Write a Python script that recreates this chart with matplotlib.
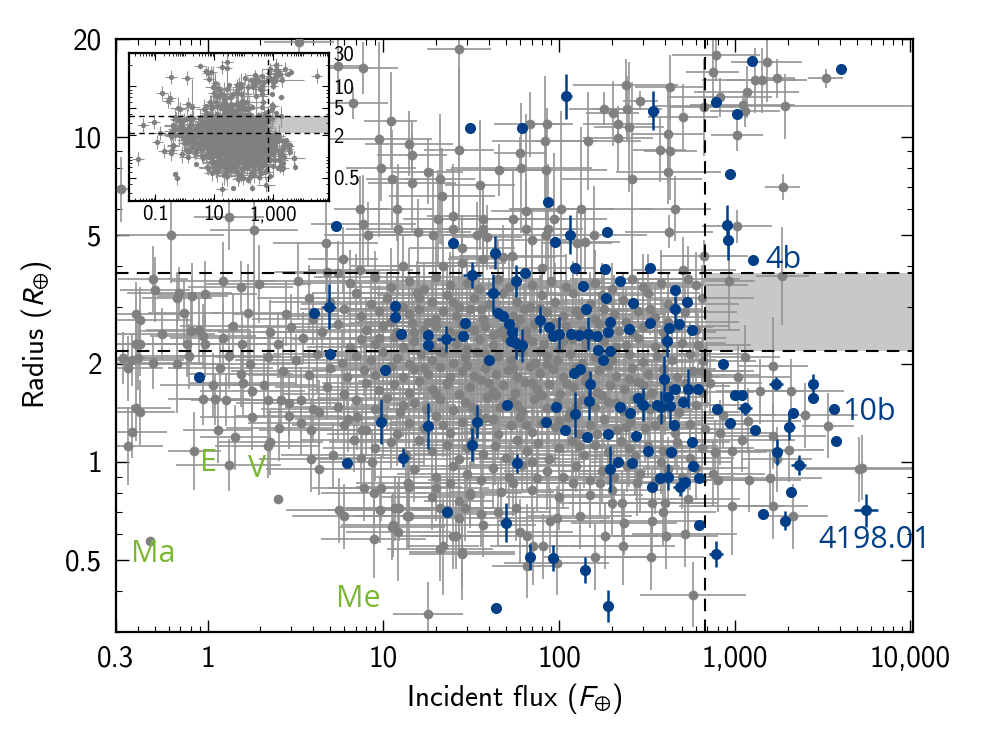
import matplotlib.pyplot as plt
import numpy as np
from matplotlib.ticker import FixedLocator, FixedFormatter, LogLocator, NullFormatter

plt.rcParams['font.family'] = ['cmss10', 'DejaVu Sans']
plt.rcParams['mathtext.fontset'] = 'stixsans'
plt.rcParams['axes.unicode_minus'] = False

# flux (F_earth), radius (R_earth), flux error (dex), radius error (dex)
gray_top = [
    (3.3, 19.5, .2, .04), (27, 18.6, .18, .3), (5.5, 16.5, .15, .08), (7.7, 16.2, .2, .08),
    (6.7, 12.7, .2, .05), (11, 11.2, .15, .15), (9.5, 9.8, .3, .3), (9.7, 8.0, .2, .1),
    (11.2, 7.4, .15, .15), (14, 9.5, .25, .1), (14.6, 8.8, .2, .1), (14.6, 7.2, .25, .15),
    (17.9, 7.8, .2, .1), (21, 7.4, .2, .2), (21.6, 6.55, .3, .15), (27, 9.1, .2, .25),
    (35.5, 7.1, .2, .2), (45.5, 7.9, .3, .08), (60, 8.9, .15, .05), (61, 8.0, .4, .2),
    (68, 10.9, .2, .1), (85, 10.9, .15, .05), (83, 9.7, .3, .2), (84, 7.9, .35, .15),
    (65, 5.9, .2, .3), (103, 6.0, .3, .3), (133, 6.0, .4, .25), (146, 9.7, .3, .15),
    (180, 12.2, .2, .05), (202, 11.8, .15, .1), (217, 10.9, .2, .05), (217, 9.9, .2, .1),
    (250, 10.7, .2, .2), (244, 12.2, .2, .1), (240, 14.4, .3, .08), (290, 12.9, .1, .03),
    (260, 7.4, .4, .3), (375, 9.1, .15, .1), (430, 14.2, .2, .1), (415, 10.2, .2, .15),
    (430, 9.0, .15, .15), (420, 7.8, .3, .1), (510, 11.5, .2, .1), (460, 6.0, .2, .1),
    (425, 5.1, .25, .05), (665, 12.3, .2, .15), (670, 4.3, .25, .05), (780, 17.8, .25, .08),
    (750, 15.8, .15, .1), (1520, 16.9, .2, .12), (1750, 15.1, .1, .06), (3300, 15.1, .1, .03),
    (1300, 14.9, .3, .1), (1430, 14.9, .2, .1), (1170, 13.7, .3, .08), (820, 13.2, .3, .06),
    (1110, 12.5, .3, .03), (1150, 12.0, .2, .05), (1940, 12.4, .75, .1), (1030, 10.1, .15, .05),
    (1880, 7.0, .1, .04), (1030, 5.3, .2, .05), (930, 3.6, .15, .15), (1870, 3.73, .15, .15),
]

gray_upper = [
    (7.4, 6.0, .15, .1), (7.7, 5.4, .3, .15), (8.2, 5.0, .25, .1), (12.2, 5.2, .3, .2),
    (12, 6.0, .2, .1), (4.7, 4.7, .3, .15), (5.9, 4.2, .2, .1), (20.5, 5.6, .2, .15),
    (25, 5.7, .15, .1), (25, 5.2, .2, .2), (15.8, 5.1, .3, .1), (19.2, 5.0, .3, .2),
    (28, 4.55, .3, .1), (37, 5.6, .3, .1), (37, 5.2, .2, .1), (39, 4.9, .2, .1),
    (34, 5.0, .2, .1), (55, 5.6, .3, .15), (65, 5.2, .3, .15), (70, 4.8, .2, .1),
    (87, 5.2, .2, .2), (94, 5.6, .3, .2), (84, 5.0, .2, .1), (126, 4.7, .2, .1),
    (140, 4.75, .2, .1), (158, 5.0, .3, .15), (54, 4.3, .3, .1), (37, 4.2, .2, .1),
    (28, 4.1, .25, .1), (22, 4.0, .3, .1), (48, 4.25, .3, .1), (80, 3.95, .3, .1),
    (13, 4.0, .3, .1), (7.4, 3.9, .3, .1), (5.5, 3.8, .3, .1), (510, 3.9, .3, .1),
    (540, 3.65, .3, .1), (1.32, 5.65, .2, .1), (1.83, 5.15, .25, .4), (0.62, 5.0, .3, .15),
    (0.32, 6.9, .2, .1), (4.8, 3.84, .3, .1),
]

gray_left = [
    (0.49, 3.65, .2, .1), (0.50, 3.38, .2, .1), (0.67, 3.2, .2, .08), (0.69, 3.3, .3, .08),
    (0.82, 3.24, .2, .1), (0.96, 3.29, .3, .1), (1.23, 3.6, .3, .12), (1.54, 3.45, .3, .08),
    (1.95, 3.53, .3, .12), (3.25, 3.6, .3, .12), (0.39, 2.84, .3, .1), (0.41, 2.74, .3, .1),
    (0.73, 2.86, .2, .1), (0.55, 2.48, .3, .08), (0.89, 2.55, .3, .1), (0.94, 2.43, .3, .1),
    (0.80, 2.52, .3, .1), (1.69, 2.87, .2, .15), (1.39, 2.62, .3, .1), (1.22, 2.41, .3, .1),
    (1.56, 2.31, .3, .1), (2.28, 2.5, .3, .1), (0.39, 2.31, .3, .1), (0.41, 2.31, .3, .1),
    (0.76, 2.30, .3, .1), (0.96, 2.30, .3, .1), (0.33, 2.09, .2, .08), (0.37, 2.06, .3, .08),
    (0.40, 2.09, .3, .1), (0.49, 2.02, .3, .08), (0.67, 2.0, .3, .15), (0.78, 2.11, .3, .1),
    (0.35, 1.94, .2, .1), (1.07, 1.72, .3, .1), (1.18, 1.94, .3, .1), (1.32, 2.11, .3, .1),
    (1.54, 1.86, .3, .1), (1.75, 2.0, .3, .1), (1.58, 1.75, .3, .1), (0.94, 1.56, .2, .08),
    (1.1, 1.56, .2, .08), (1.28, 1.55, .2, .08), (1.8, 1.65, .3, .1), (2.1, 1.72, .3, .1),
    (2.2, 1.55, .3, .1), (2.6, 1.55, .3, .1), (2.9, 1.52, .3, .1), (1.8, 1.37, .3, .1),
    (0.39, 1.46, .2, .1), (0.41, 1.42, .2, .1), (0.37, 1.24, .2, .08), (0.35, 1.12, .2, .12),
    (1.15, 1.25, .2, .1), (1.44, 1.19, .2, .1), (0.84, 1.08, .15, .12), (1.32, 0.98, .3, .08),
    (2.28, 1.15, .3, .1), (2.53, 0.77, 0, 0), (0.47, 0.57, 0, 0), (2.55, 1.27, .3, .1),
    (2.9, 1.38, .3, .1), (3.4, 1.32, .3, .1), (3.9, 1.25, .3, .1), (3.9, 1.02, .3, .1),
    (4.3, 0.95, .3, .08), (5.2, 1.05, .3, .1), (7.5, 1.03, .3, .1), (8.6, 1.0, .3, .1),
    (6.8, 1.17, .3, .1), (7.6, 1.25, .3, .1), (7.1, 1.37, .3, .1), (6.3, 1.35, .3, .1),
    (4.3, 1.42, .3, .1), (3.4, 1.55, .3, .1), (4.0, 1.45, .3, .1), (2.2, 1.12, .3, .1),
]

gray_low = [
    (5.6, 0.71, .3, .1), (6.0, 0.68, .3, .1), (7.8, 0.83, .3, .1), (8.8, 0.80, .3, .1),
    (9.7, 0.83, .3, .1), (9.6, 0.71, .3, .1), (8.8, 0.58, .3, .12), (11.4, 0.64, .3, .1),
    (12.3, 0.72, .3, .1), (14, 0.68, .3, .1), (14, 0.84, .3, .1), (12.2, 0.61, .3, .15),
    (18, 0.34, .2, .1), (20, 0.83, .3, .1), (23, 0.71, .2, .1), (26, 0.59, .2, .1),
    (22, 0.55, .2, .15), (28, 0.53, .3, .15), (36, 0.69, .2, .1), (29, 0.72, .2, .1),
    (27, 0.76, .2, .1), (31, 0.79, .2, .1), (580, 0.39, .3, .1), (335, 0.51, .3, .1),
    (230, 0.55, .3, .12), (160, 0.51, .3, .1), (184, 0.59, .3, .1), (405, 0.59, .3, .1),
    (520, 0.60, .3, .1), (81, 0.55, .3, .1), (71, 0.55, .2, .12), (66, 0.59, .2, .1),
    (60, 0.61, .3, .1), (66, 0.48, .2, .1), (97, 0.49, .3, .1), (28, 0.52, .3, .1),
    (21, 0.54, .3, .1), (25, 0.59, .3, .1), (37, 0.64, .3, .1), (45, 0.70, .3, .1),
    (57, 0.72, .3, .1), (89, 0.66, .3, .1), (98, 0.67, .3, .1), (131, 0.68, .3, .1),
    (200, 0.75, .3, .1), (228, 0.75, .3, .1), (235, 0.65, .3, .1), (340, 0.66, .3, .1),
    (390, 0.70, .3, .1), (400, 0.75, .3, .1), (540, 0.77, .3, .1), (27, 0.67, .3, .1),
    (21, 0.72, .3, .1), (13.6, 0.68, .3, .1), (11.2, 0.63, .3, .1), (11.6, 0.72, .3, .1),
    (13.9, 0.86, .3, .1), (19, 0.78, .3, .1), (24, 0.86, .3, .1), (31, 0.80, .3, .1),
    (47, 0.81, .3, .1), (55, 0.86, .3, .1), (70, 0.82, .3, .1), (100, 0.78, .3, .1),
    (120, 0.86, .3, .1), (150, 0.79, .3, .1), (172, 0.86, .3, .1), (200, 0.82, .3, .1),
    (277, 0.86, .3, .1), (340, 0.75, .3, .1),
]

gray_right = [
    (1150, 2.1, .2, .1), (1650, 1.97, .2, .15), (1040, 1.82, .3, .1), (1390, 1.65, .25, .1),
    (2100, 1.65, .3, .1), (2520, 1.39, .3, .1), (3400, 1.29, .15, .1), (1650, 1.2, .3, .1),
    (1190, 1.34, .3, .1), (860, 1.39, .3, .1), (1100, 1.17, .3, .1), (970, 1.08, .3, .1),
    (1750, 1.02, .2, .1), (2040, 1.09, .2, .1), (1580, 0.89, .3, .08), (1200, 0.88, .3, .1),
    (960, 0.73, .3, .15), (1660, 0.73, .2, .1), (2150, 0.68, .2, .1), (5330, 0.96, .35, .1),
    (5100, 0.95, .3, .1), (770, 1.07, .3, .1), (750, 0.92, .3, .1), (800, 0.88, .3, .1),
    (820, 1.23, .3, .1), (650, 1.9, .3, .1), (720, 1.75, .3, .1),
]

gray_core = [
    (6.5, 3.55, .3, .1), (9, 3.7, .35, .08), (11, 3.45, .25, .12), (14, 3.6, .4, .1),
    (17, 3.4, .3, .08), (20, 3.7, .2, .12), (24, 3.5, .35, .1), (30, 3.55, .3, .08),
    (35, 3.4, .4, .1), (45, 3.65, .25, .12), (52, 3.45, .3, .1), (70, 3.5, .35, .08),
    (90, 3.6, .3, .12), (110, 3.45, .25, .1), (160, 3.55, .4, .1), (200, 3.4, .3, .08),
    (260, 3.65, .35, .12), (300, 3.45, .3, .1), (380, 3.55, .25, .1), (600, 3.5, .3, .1),
    (3.8, 3.2, .3, .1), (5, 3.1, .35, .08), (7, 3.3, .25, .12), (8.5, 3.05, .4, .1),
    (10.5, 3.2, .3, .08), (13, 3.0, .2, .12), (15.5, 3.3, .35, .1), (19, 3.1, .3, .08),
    (23, 3.25, .4, .1), (27, 3.0, .25, .12), (33, 3.2, .3, .1), (40, 3.05, .35, .08),
    (48, 3.3, .3, .12), (58, 3.1, .25, .1), (68, 3.0, .4, .1), (80, 3.25, .3, .08),
    (95, 3.1, .35, .12), (120, 3.3, .3, .1), (150, 3.05, .25, .1), (175, 3.25, .3, .1),
    (230, 3.15, .35, .08), (320, 3.3, .3, .12), (420, 3.05, .4, .1), (650, 3.2, .3, .1),
    (2.8, 2.85, .3, .1), (4, 2.75, .35, .08), (6, 2.95, .25, .12), (7.5, 2.8, .4, .1),
    (9.5, 2.9, .3, .08), (11, 2.7, .2, .12), (14, 2.85, .35, .1), (16, 2.95, .3, .08),
    (20, 2.75, .4, .1), (22, 2.9, .25, .12), (26, 2.8, .3, .1), (31, 2.95, .35, .08),
    (37, 2.75, .3, .12), (44, 2.9, .25, .1), (55, 2.8, .4, .1), (63, 2.95, .3, .08),
    (75, 2.72, .35, .12), (85, 2.88, .3, .1), (105, 2.8, .25, .1), (125, 2.92, .3, .1),
    (160, 2.75, .35, .08), (205, 2.85, .3, .12), (280, 2.9, .4, .1), (350, 2.78, .3, .1),
    (520, 2.88, .3, .1),
    (3, 2.6, .3, .1), (4.5, 2.5, .35, .08), (5.5, 2.65, .25, .12), (8, 2.55, .4, .1),
    (10, 2.62, .3, .08), (12, 2.5, .2, .12), (14.5, 2.68, .35, .1), (17, 2.55, .3, .08),
    (20, 2.62, .4, .1), (24, 2.5, .25, .12), (28, 2.66, .3, .1), (33, 2.55, .35, .08),
    (38, 2.62, .3, .12), (46, 2.5, .25, .1), (56, 2.6, .4, .1), (65, 2.52, .3, .08),
    (72, 2.65, .35, .12), (90, 2.55, .3, .1), (110, 2.62, .25, .1), (135, 2.55, .3, .1),
    (170, 2.65, .35, .08), (220, 2.52, .3, .12), (300, 2.6, .4, .1), (390, 2.5, .3, .1),
    (470, 2.62, .3, .1), (600, 2.55, .25, .1),
    (2.5, 2.3, .3, .1), (3.5, 2.4, .35, .08), (6.5, 2.25, .25, .12), (7.5, 2.38, .4, .1),
    (9, 2.3, .3, .08), (11.5, 2.42, .2, .12), (13, 2.25, .35, .1), (15, 2.35, .3, .08),
    (19, 2.28, .4, .1), (23, 2.42, .25, .12), (26, 2.3, .3, .1), (30, 2.22, .35, .08),
    (35, 2.38, .3, .12), (42, 2.28, .25, .1), (50, 2.4, .4, .1), (60, 2.25, .3, .08),
    (70, 2.35, .35, .12), (82, 2.3, .3, .1), (100, 2.22, .25, .1), (118, 2.38, .3, .1),
    (140, 2.3, .35, .08), (180, 2.35, .3, .12), (240, 2.28, .4, .1), (280, 2.4, .3, .1),
    (350, 2.25, .3, .1), (500, 2.32, .25, .1), (620, 2.28, .3, .1),
    (2.2, 2.1, .3, .1), (3.2, 2.05, .35, .08), (4.2, 2.15, .25, .12), (5.8, 2.02, .4, .1),
    (7, 2.12, .3, .08), (8.5, 2.05, .2, .12), (10, 2.18, .35, .1), (12, 2.08, .3, .08),
    (14, 2.0, .4, .1), (16.5, 2.14, .25, .12), (19, 2.05, .3, .1), (22, 2.17, .35, .08),
    (25, 2.02, .3, .12), (29, 2.1, .25, .1), (34, 2.18, .4, .1), (39, 2.04, .3, .08),
    (45, 2.12, .35, .12), (53, 2.06, .3, .1), (62, 2.17, .25, .1), (73, 2.02, .3, .1),
    (86, 2.12, .35, .08), (98, 2.05, .3, .12), (115, 2.15, .4, .1), (135, 2.02, .3, .1),
    (160, 2.1, .3, .1), (200, 2.06, .25, .1), (250, 2.15, .35, .1), (300, 2.03, .3, .08),
    (360, 2.12, .3, .12), (440, 2.06, .25, .1), (560, 2.15, .3, .1), (660, 2.04, .3, .1),
    (2.7, 1.9, .3, .1), (3.8, 1.85, .35, .08), (5, 1.95, .25, .12), (6.2, 1.82, .4, .1),
    (7.8, 1.92, .3, .08), (9, 1.85, .2, .12), (11, 1.97, .35, .1), (13, 1.83, .3, .08),
    (15, 1.93, .4, .1), (18, 1.86, .25, .12), (21, 1.96, .3, .1), (24, 1.82, .35, .08),
    (28, 1.9, .3, .12), (33, 1.84, .25, .1), (38, 1.95, .4, .1), (44, 1.86, .3, .08),
    (51, 1.92, .35, .12), (58, 1.82, .3, .1), (68, 1.97, .25, .1), (78, 1.87, .3, .1),
    (92, 1.93, .35, .08), (105, 1.83, .3, .12), (125, 1.95, .4, .1), (145, 1.85, .3, .1),
    (170, 1.92, .3, .1), (210, 1.84, .25, .1), (260, 1.95, .35, .1), (320, 1.86, .3, .08),
    (390, 1.93, .3, .12), (470, 1.83, .25, .1), (580, 1.9, .3, .1), (700, 1.85, .3, .1),
    (4.8, 1.7, .3, .1), (6, 1.62, .35, .08), (8, 1.75, .25, .12), (9.5, 1.66, .4, .1),
    (11.5, 1.73, .3, .08), (14, 1.63, .2, .12), (16, 1.77, .35, .1), (19, 1.68, .3, .08),
    (23, 1.74, .4, .1), (27, 1.62, .25, .12), (31, 1.7, .3, .1), (36, 1.78, .35, .08),
    (42, 1.65, .3, .12), (48, 1.72, .25, .1), (56, 1.63, .4, .1), (64, 1.76, .3, .08),
    (75, 1.68, .35, .12), (88, 1.74, .3, .1), (102, 1.62, .25, .1), (120, 1.7, .3, .1),
    (140, 1.77, .35, .08), (165, 1.64, .3, .12), (195, 1.72, .4, .1), (235, 1.67, .3, .1),
    (280, 1.76, .3, .1), (340, 1.63, .25, .1), (420, 1.71, .35, .1), (520, 1.75, .3, .08),
    (650, 1.64, .3, .1),
    (5.5, 1.48, .3, .1), (7, 1.55, .35, .08), (9, 1.45, .25, .12), (10.5, 1.57, .4, .1),
    (12.5, 1.42, .3, .08), (15, 1.52, .2, .12), (17.5, 1.45, .35, .1), (21, 1.56, .3, .08),
    (25, 1.44, .4, .1), (29, 1.53, .25, .12), (34, 1.42, .3, .1), (39, 1.58, .35, .08),
    (46, 1.47, .3, .12), (54, 1.54, .25, .1), (62, 1.43, .4, .1), (72, 1.56, .3, .08),
    (85, 1.46, .35, .12), (98, 1.52, .3, .1), (115, 1.42, .25, .1), (135, 1.55, .3, .1),
    (160, 1.47, .35, .08), (190, 1.53, .3, .12), (230, 1.43, .4, .1), (270, 1.56, .3, .1),
    (330, 1.45, .3, .1), (400, 1.52, .25, .1), (480, 1.42, .35, .1), (600, 1.5, .3, .1),
    (6, 1.3, .3, .1), (8, 1.25, .35, .08), (10, 1.36, .25, .12), (12, 1.22, .4, .1),
    (14, 1.32, .3, .08), (17, 1.27, .2, .12), (20, 1.38, .35, .1), (24, 1.23, .3, .08),
    (28, 1.33, .4, .1), (33, 1.26, .25, .12), (38, 1.36, .3, .1), (45, 1.22, .35, .08),
    (53, 1.3, .3, .12), (60, 1.37, .25, .1), (70, 1.24, .4, .1), (80, 1.32, .3, .08),
    (95, 1.28, .35, .12), (112, 1.37, .3, .1), (130, 1.22, .25, .1), (150, 1.3, .3, .1),
    (180, 1.35, .35, .08), (215, 1.25, .3, .12), (255, 1.33, .4, .1), (310, 1.27, .3, .1),
    (380, 1.36, .3, .1), (460, 1.23, .25, .1), (560, 1.31, .35, .1), (680, 1.26, .3, .1),
    (9, 1.1, .3, .1), (11, 1.15, .35, .08), (13.5, 1.05, .25, .12), (16, 1.17, .4, .1),
    (19, 1.08, .3, .08), (23, 1.13, .2, .12), (27, 1.02, .35, .1), (32, 1.16, .3, .08),
    (37, 1.06, .4, .1), (43, 1.12, .25, .12), (50, 1.03, .3, .1), (58, 1.17, .35, .08),
    (66, 1.08, .3, .12), (76, 1.14, .25, .1), (88, 1.02, .4, .1), (100, 1.1, .3, .08),
    (118, 1.16, .35, .12), (138, 1.05, .3, .1), (160, 1.13, .25, .1), (190, 1.07, .3, .1),
    (225, 1.16, .35, .08), (270, 1.04, .3, .12), (320, 1.12, .4, .1), (390, 1.08, .3, .1),
    (470, 1.15, .3, .1), (560, 1.03, .25, .1), (650, 1.1, .3, .1),
    (15, 0.95, .3, .1), (20, 0.9, .35, .08), (25, 0.97, .25, .12), (30, 0.92, .4, .1),
    (36, 0.88, .3, .08), (42, 0.96, .2, .12), (52, 0.9, .35, .1), (62, 0.98, .3, .08),
    (75, 0.89, .4, .1), (86, 0.94, .25, .12), (105, 0.9, .3, .1), (125, 0.97, .35, .08),
    (150, 0.88, .3, .12), (175, 0.94, .25, .1), (205, 0.9, .4, .1), (245, 0.97, .3, .08),
    (290, 0.92, .35, .12), (350, 0.87, .3, .1), (420, 0.95, .25, .1), (500, 0.9, .3, .1),
    (600, 0.96, .3, .1),
]

gray_dense = [
    (16, 3.2, .35, .1), (12, 2.95, .3, .1), (18, 2.7, .4, .08), (25, 3.1, .3, .12),
    (30, 2.6, .35, .1), (36, 2.95, .3, .08), (42, 2.45, .4, .1), (60, 2.75, .3, .12),
    (78, 2.98, .35, .1), (95, 2.68, .3, .08), (130, 2.82, .4, .1), (180, 2.95, .3, .12),
    (240, 2.7, .35, .1), (330, 2.95, .3, .08), (420, 2.7, .4, .1), (9.5, 2.4, .35, .1),
    (15, 2.5, .3, .1), (21, 2.2, .4, .08), (27, 2.45, .3, .12), (38, 2.15, .35, .1),
    (48, 2.55, .3, .08), (66, 2.4, .4, .1), (78, 2.2, .3, .12), (105, 2.35, .35, .1),
    (150, 2.42, .3, .08), (210, 2.25, .4, .1), (260, 2.5, .3, .12), (400, 2.4, .35, .1),
    (17, 1.95, .3, .1), (23, 1.75, .35, .08), (30, 1.98, .3, .12), (40, 1.75, .4, .1),
    (55, 1.95, .3, .08), (70, 1.75, .35, .1), (85, 2.0, .3, .12), (110, 1.75, .4, .1),
    (130, 1.9, .3, .08), (190, 1.98, .35, .1), (250, 1.8, .3, .12), (300, 1.72, .4, .1),
    (13, 1.5, .3, .1), (20, 1.62, .35, .08), (32, 1.48, .3, .12), (44, 1.6, .4, .1),
    (58, 1.5, .3, .08), (80, 1.6, .35, .1), (125, 1.48, .3, .12), (175, 1.6, .4, .1),
    (210, 1.52, .3, .08), (300, 1.58, .35, .1), (22, 1.3, .3, .1), (42, 1.35, .35, .08),
    (65, 1.3, .3, .12), (100, 1.34, .4, .1), (165, 1.22, .3, .08), (240, 1.28, .35, .1),
    (350, 1.3, .3, .12), (30, 1.1, .4, .1), (70, 1.0, .3, .08), (130, 1.12, .35, .1),
    (250, 1.1, .3, .12), (380, 1.0, .4, .1),
]

blue_planets = [
    (110, 13.3, .03, .07), (31, 10.6, 0, 0), (62, 10.6, 0, 0), (345, 12.0, .03, .06),
    (1250, 17.1, 0, 0), (4030, 16.1, 0, 0), (780, 12.8, 0, 0), (1030, 11.7, 0, 0),
    (940, 7.7, 0, 0), (900, 5.35, .02, .06), (920, 4.8, .02, .06), (1270, 4.17, 0, 0),
    (87, 6.3, 0, 0), (5.4, 5.3, 0, 0), (25, 4.7, 0, 0), (43, 4.4, .02, .05),
    (95, 4.75, 0, 0), (115, 5.0, .02, .06), (187, 5.1, 0, 0), (123, 3.95, 0, 0),
    (183, 3.92, 0, 0), (330, 3.95, 0, 0), (32, 3.76, .05, .04), (64, 3.8, 0, 0),
    (57, 3.6, .01, .05), (222, 3.6, 0, 0), (137, 3.48, 0, 0), (42, 3.3, .04, .06),
    (11.7, 3.02, 0, 0), (11.7, 2.78, 0, 0), (12.6, 2.48, 0, 0), (18, 2.45, 0, 0),
    (18, 2.28, 0, 0), (22.8, 2.39, .05, .04), (28.5, 2.43, 0, 0), (29, 2.68, 0, 0),
    (45, 2.87, 0, 0), (48, 2.80, 0, 0), (52, 2.66, 0, 0), (54, 2.50, .01, .04),
    (53, 2.35, 0, 0), (57, 2.32, .01, .05), (62, 2.28, .01, .05), (78, 2.74, .02, .04),
    (88, 2.60, 0, 0), (92, 2.44, 0, 0), (100, 2.48, .02, .05), (117, 2.48, 0, 0),
    (130, 2.45, 0, 0), (146, 2.48, .01, .05), (164, 2.43, 0, 0), (167, 2.21, 0, 0),
    (177, 2.05, 0, 0), (196, 2.20, 0, 0), (189, 2.50, 0, 0), (196, 2.70, 0, 0),
    (186, 3.20, 0, 0), (142, 2.96, 0, 0), (265, 3.08, 0, 0), (250, 2.57, 0, 0),
    (331, 2.68, 0, 0), (455, 3.37, 0, 0), (455, 2.96, .03, .04), (535, 3.10, 0, 0),
    (485, 2.66, 0, 0), (425, 2.58, 0, 0), (570, 2.55, 0, 0), (410, 2.36, .03, .05),
    (40, 2.05, 0, 0), (10.2, 1.91, 0, 0), (122, 1.88, 0, 0), (132, 1.93, 0, 0),
    (150, 1.74, .01, .04), (148, 1.54, .01, .06), (50.6, 1.50, 0, 0), (96, 1.48, 0, 0),
    (124, 1.40, .01, .07), (84, 1.33, 0, 0), (108, 1.25, 0, 0), (144, 1.19, 0, 0),
    (190, 1.22, 0, 0), (275, 1.20, 0, 0), (222, 1.48, 0, 0), (255, 1.41, 0, 0),
    (280, 1.57, 0, 0), (300, 1.50, .04, .05), (360, 1.50, 0, 0), (380, 1.47, .01, .05),
    (395, 1.80, .01, .07), (415, 1.58, 0, 0), (460, 1.68, 0, 0), (430, 1.49, .01, .06),
    (450, 1.30, 0, 0), (510, 1.53, 0, 0), (540, 1.68, .01, .06), (615, 1.68, 0, 0),
    (570, 1.15, 0, 0), (435, 1.07, 0, 0), (320, 1.08, 0, 0), (260, 0.99, 0, 0),
    (218, 1.00, 0, 0), (195, 0.95, .01, .07), (375, 0.89, 0, 0), (415, 0.90, .01, .04),
    (490, 0.84, .04, .03), (520, 0.87, 0, 0), (580, 0.97, 0, 0), (625, 0.89, 0, 0),
    (338, 0.84, 0, 0), (630, 0.64, 0, 0), (780, 0.52, .04, .04), (790, 1.45, 0, 0),
    (34, 1.33, .01, .05), (18, 1.29, .01, .07), (9.7, 1.33, .01, .07), (32, 1.13, .01, .05),
    (13, 1.03, .03, .03), (58, 0.99, .01, .03), (23, 0.70, 0, 0), (50, 0.65, .01, .06),
    (68, 0.51, .01, .04), (92, 0.505, .01, .04), (140, 0.465, .01, .04), (44, 0.355, 0, 0),
    (190, 0.36, .01, .05), (4.05, 2.86, 0, 0), (4.9, 3.0, .04, .07), (5.0, 2.14, 0, 0),
    (0.89, 1.83, 0, 0), (6.2, 0.99, 0, 0), (860, 2.0, 0, 0), (1720, 1.74, .04, .02),
    (2780, 1.74, .02, .03), (2780, 1.57, 0, 0), (3700, 1.45, 0, 0), (1000, 1.60, 0, 0),
    (1100, 1.60, 0, 0), (1150, 1.46, .04, .02), (940, 1.32, 0, 0), (1310, 1.25, 0, 0),
    (2140, 1.41, 0, 0), (2050, 1.28, .03, .04), (3800, 1.16, 0, 0), (1750, 1.07, .02, .04),
    (2310, 0.98, .04, .03), (2100, 0.81, 0, 0), (1450, 0.69, 0, 0), (1930, 0.66, .01, .03),
    (5600, 0.71, .07, .05),
]

# planets only visible in the inset (outside the main panel range)
inset_extra = [
    (0.038, 2.8, .2, .1), (0.027, 0.93, .2, .1), (0.54, 0.5, .1, .1), (0.17, 8.0, .2, .1),
    (0.35, 13.8, .2, .1), (0.28, 6.2, .2, .1), (0.7, 4.7, .2, .1), (1.2, 13.1, .2, .1),
    (6.2, 15.4, .2, .1), (27, 22.5, .2, .1), (18, 19, .2, .1), (1300, 20, .2, .1),
    (2500, 18, .2, .1), (30000, 14, .2, .1), (0.12, 1.6, .2, .1), (0.09, 3.1, .2, .1),
    (0.2, 1.2, .2, .1), (0.15, 2.2, .2, .1),
]

solar_system = ['Ma', 'E', 'V', 'Me']
solar_flux = [0.365, 0.91, 1.92, 7.2]
solar_radius = [0.52, 0.99, 0.95, 0.38]
solar_align = ['left', 'left', 'center', 'center']

named = ['4b', '10b', '4198.01']
named_flux = [1500, 4100, 6240]
named_radius = [4.17, 1.42, 0.577]
named_align = ['left', 'left', 'center']

flux_cut = 680
radius_lo, radius_hi = 2.2, 3.8

gray_all = gray_top + gray_upper + gray_left + gray_low + gray_right + gray_core + gray_dense


def unpack(rows):
    a = np.array(rows, dtype=float)
    x, y, dx, dy = a.T
    xerr = [x - x / 10**dx, x * 10**dx - x]
    yerr = [y - y / 10**dy, y * 10**dy - y]
    return x, y, xerr, yerr


GRAY = '#808080'
GRAY_ERR = '#939393'
BLUE = '#003f87'
GREEN = '#7ab730'

fig = plt.figure(figsize=(9.81, 7.37), dpi=100)
ax = fig.add_axes([0.118, 0.1425, 0.813, 0.805])

gx, gy, gxe, gye = unpack(gray_all)
bx, by, bxe, bye = unpack(blue_planets)

ax.fill_between([flux_cut, 1e5], radius_lo, radius_hi, color='#c8c8c8', lw=0, zorder=1)
ax.errorbar(gx, gy, xerr=gxe, yerr=gye, fmt='none', ecolor=GRAY_ERR, elinewidth=1.2,
            capsize=0, zorder=2)
ax.plot(gx, gy, 'o', color=GRAY, ms=7, mec='none', zorder=3)
for r in (radius_lo, radius_hi):
    ax.axhline(r, color='k', ls=(0, (6, 4)), lw=1.5, zorder=4)
ax.axvline(flux_cut, color='k', ls=(0, (6, 4)), lw=1.5, zorder=4)
ax.errorbar(bx, by, xerr=bxe, yerr=bye, fmt='none', ecolor=BLUE, elinewidth=1.8,
            capsize=0, zorder=5)
ax.plot(bx, by, 'o', color=BLUE, ms=8, mec='none', zorder=6)

for name, fx, r, ha in zip(solar_system, solar_flux, solar_radius, solar_align):
    ax.text(fx, r, name, color=GREEN, fontsize=22, family='Open Sans',
            ha=ha, va='center', zorder=7)
for name, fx, r, ha in zip(named, named_flux, named_radius, named_align):
    ax.text(fx, r, name, color=BLUE, fontsize=22, family='Open Sans',
            ha=ha, va='center', zorder=7)

ax.set_xscale('log')
ax.set_yscale('log')
ax.set_xlim(0.3, 10400)
ax.set_ylim(0.3, 20)

xt = [0.3, 1, 10, 100, 1000, 10000]
xl = ['0.3', '1', '10', '100', '1,000', '10,000']
yt = [0.5, 1, 2, 5, 10, 20]
yl = ['0.5', '1', '2', '5', '10', '20']
ax.xaxis.set_major_locator(FixedLocator(xt))
ax.xaxis.set_major_formatter(FixedFormatter(xl))
ax.yaxis.set_major_locator(FixedLocator(yt))
ax.yaxis.set_major_formatter(FixedFormatter(yl))
ax.xaxis.set_minor_locator(LogLocator(base=10, subs=np.arange(2, 10), numticks=20))
ax.yaxis.set_minor_locator(LogLocator(base=10, subs=np.arange(2, 10), numticks=20))
ax.xaxis.set_minor_formatter(NullFormatter())
ax.yaxis.set_minor_formatter(NullFormatter())
ax.tick_params(which='both', direction='in', top=True, right=True, labelsize=21, pad=10)
ax.tick_params(which='major', length=9, width=1)
ax.tick_params(which='minor', length=4.5, width=0.8)
for s in ax.spines.values():
    s.set_linewidth(1.6)

ax.set_xlabel(r'Incident flux ($F_{\oplus}$)', fontsize=21, labelpad=6)
ax.set_ylabel(r'Radius ($R_{\oplus}$)', fontsize=21, labelpad=8)

# inset with the full sample
ins = fig.add_axes([0.1315, 0.727, 0.204, 0.201])
ix, iy, ixe, iye = unpack(gray_all + blue_planets + inset_extra)
ins.fill_between([flux_cut, 1e6], radius_lo, radius_hi, color='#c8c8c8', lw=0, zorder=1)
ins.errorbar(ix, iy, xerr=ixe, yerr=iye, fmt='none', ecolor=GRAY_ERR, elinewidth=0.8,
             capsize=0, zorder=2)
ins.plot(ix, iy, 'o', color=GRAY, ms=3.8, mec='none', zorder=3)
for r in (radius_lo, radius_hi):
    ins.axhline(r, color='k', ls=(0, (4, 3)), lw=1, zorder=4)
ins.axvline(flux_cut, color='k', ls=(0, (4, 3)), lw=1, zorder=4)
ins.set_xscale('log')
ins.set_yscale('log')
ins.set_xlim(0.013, 8e4)
ins.set_ylim(0.23, 30)
ins.xaxis.set_major_locator(FixedLocator([0.1, 10, 1000]))
ins.xaxis.set_major_formatter(FixedFormatter(['0.1', '10', '1,000']))
ins.yaxis.set_major_locator(FixedLocator([0.5, 2, 5, 10, 30]))
ins.yaxis.set_major_formatter(FixedFormatter(['0.5', '2', '5', '10', '30']))
ins.xaxis.set_minor_locator(LogLocator(base=10, subs=np.arange(1, 10), numticks=30))
ins.yaxis.set_minor_locator(LogLocator(base=10, subs=np.arange(1, 10), numticks=30))
ins.xaxis.set_minor_formatter(NullFormatter())
ins.yaxis.set_minor_formatter(NullFormatter())
ins.tick_params(which='both', direction='in', top=True, right=True, left=True,
                labelleft=False, labelright=True, labelsize=15, pad=3)
ins.tick_params(which='major', length=5)
ins.tick_params(which='minor', length=2.5)
for s in ins.spines.values():
    s.set_linewidth(1.6)

fig.savefig('out.png', dpi=100)
